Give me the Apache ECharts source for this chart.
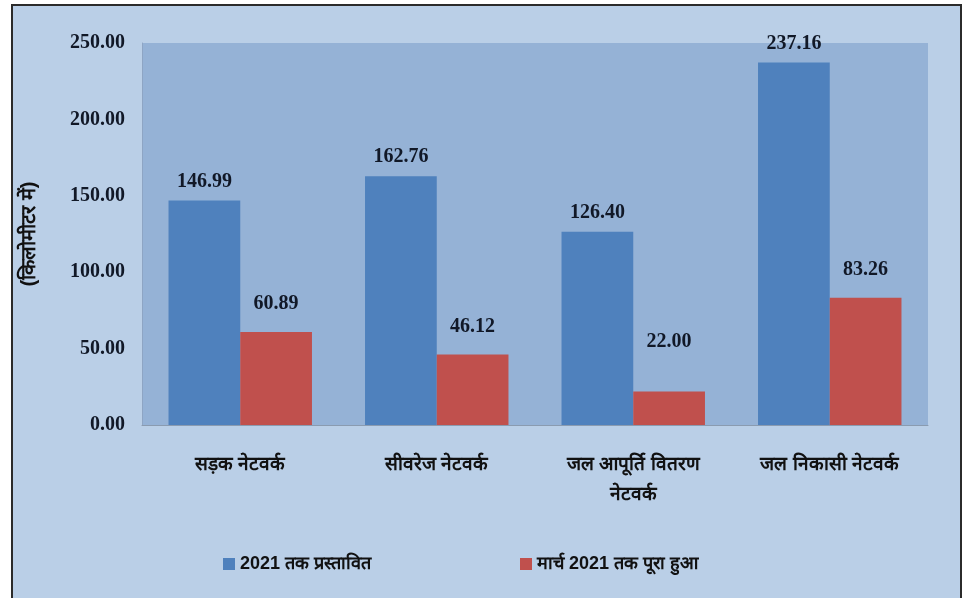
<!DOCTYPE html>
<html>
<head>
<meta charset="utf-8">
<script src="https://cdn.jsdelivr.net/npm/echarts@6/dist/echarts.min.js"></script>
<style>
  html, body { margin: 0; padding: 0; background: #ffffff; }
  #chart { width: 965px; height: 598px; }
</style>
</head>
<body>
<div id="chart"></div>
<script>
// Network categories (x axis)
const categories = ['सड़क नेटवर्क', 'सीवरेज नेटवर्क', 'जल आपूर्ति वितरण\nनेटवर्क', 'जल निकासी नेटवर्क'];
// Series names
const seriesNames = ['2021 तक प्रस्तावित', 'मार्च 2021 तक पूरा हुआ'];
// Length in km
const proposed = [146.99, 162.76, 126.40, 237.16];
const completed = [60.89, 46.12, 22.00, 83.26];
// Value axis ticks
const yTicks = [0, 50, 100, 150, 200, 250];

const chart = echarts.init(document.getElementById('chart'), null, { renderer: 'canvas' });

const serif = '"Liberation Serif", "Times New Roman", serif';
const sans = '"Liberation Sans", Arial, sans-serif';

const valueLabel = {
  show: true,
  position: 'top',
  fontFamily: serif,
  fontWeight: 'bold',
  fontSize: 20,
  color: '#111827',
  formatter: p => p.value.toFixed(2)
};

const completedData = completed.map(v => {
  // the shortest bar's label sits higher to stay clear of the axis area
  if (v < 30) return { value: v, label: { distance: 40 } };
  return v;
});

// one legend block per series, each placed on its own
const legendBase = {
  bottom: 20,
  itemWidth: 12,
  itemHeight: 12,
  itemGap: 4,
  icon: 'rect',
  textStyle: {
    fontFamily: sans,
    fontSize: 18,
    fontWeight: 'bold',
    color: '#111111'
  }
};

chart.setOption({
  animation: false,
  graphic: [{
    type: 'rect',
    z: -10,
    shape: { x: 12, y: 5, width: 949, height: 600 },
    style: { fill: '#bacfe7', stroke: '#2b2b2b', lineWidth: 2 }
  }],
  grid: {
    left: 142, right: 37, top: 43, bottom: 173,
    show: true,
    backgroundColor: '#95b2d6',
    borderWidth: 0
  },
  legend: [
    Object.assign({}, legendBase, { left: 218, data: [seriesNames[0]] }),
    Object.assign({}, legendBase, { left: 515, data: [seriesNames[1]] })
  ],
  xAxis: {
    type: 'category',
    data: categories,
    axisLine: { show: true, lineStyle: { color: '#8a9bb0', width: 1 } },
    axisTick: { show: false },
    axisLabel: {
      margin: 25,
      fontSize: 19,
      fontWeight: 'bold',
      lineHeight: 30,
      color: '#111111',
      fontFamily: sans
    }
  },
  yAxis: {
    type: 'value',
    min: yTicks[0],
    max: yTicks[yTicks.length - 1],
    interval: yTicks[1] - yTicks[0],
    name: '(किलोमीटर में)',
    nameLocation: 'middle',
    nameGap: 103,
    nameRotate: 90,
    nameTextStyle: {
      fontSize: 20,
      fontWeight: 'bold',
      color: '#111111',
      fontFamily: sans
    },
    splitLine: { show: false },
    axisLine: { show: true, lineStyle: { color: '#8ea5c4' } },
    axisTick: { show: false },
    axisLabel: {
      margin: 17,
      fontFamily: serif,
      fontWeight: 'bold',
      fontSize: 20,
      color: '#111827',
      formatter: v => v.toFixed(2)
    }
  },
  series: [
    {
      name: seriesNames[0],
      type: 'bar',
      data: proposed,
      barGap: '0%',
      barCategoryGap: '27%',
      itemStyle: { color: '#4f81bd' },
      label: Object.assign({}, valueLabel, { distance: 9 })
    },
    {
      name: seriesNames[1],
      type: 'bar',
      data: completedData,
      itemStyle: { color: '#c0504d' },
      label: Object.assign({}, valueLabel, { distance: 18 })
    }
  ]
});
</script>
</body>
</html>
